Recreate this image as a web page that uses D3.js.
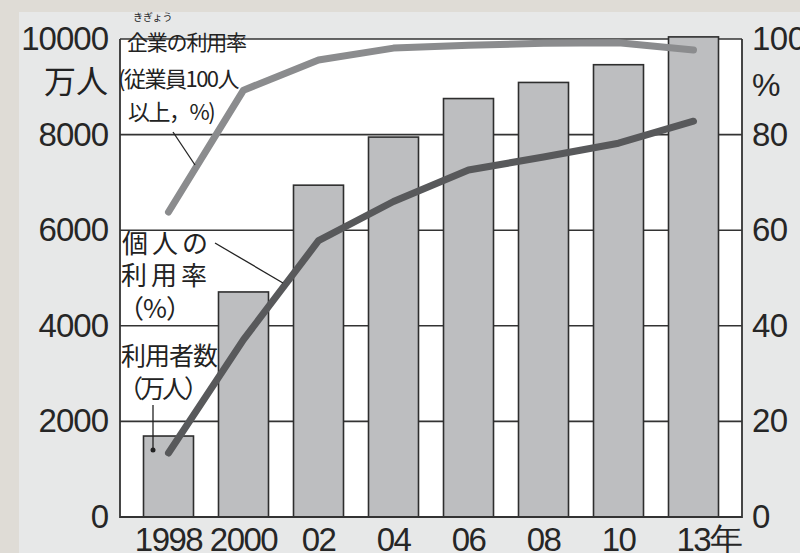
<!DOCTYPE html>
<html>
<head>
<meta charset="utf-8">
<script src="https://cdn.jsdelivr.net/npm/d3@7"></script>
<style>
  html, body { margin: 0; padding: 0; background: #dfdcd6; }
  svg { display: block; }
  .num { font-family: "Liberation Sans", Arial, sans-serif; fill: #262626; }
  .jp { font-family: "Noto Sans CJK JP", sans-serif; fill: #222; }
</style>
</head>
<body>
<svg id="chart"></svg>
<script>
// data
const years = ["1998", "2000", "02", "04", "06", "08", "10", "13"];
const users = [1694, 4708, 6942, 7948, 8754, 9091, 9462, 10044];      // 万人
const personalRate = [13.4, 37.1, 57.8, 66.0, 72.6, 75.3, 78.2, 82.8]; // %
const companyRate = [63.8, 89.3, 95.6, 98.1, 98.7, 99.1, 99.2, 97.7];  // %
const leftTicks = [0, 2000, 4000, 6000, 8000, 10000];
const rightTicks = [0, 20, 40, 60, 80, 100];

const width = 800, height = 553;
const plot = {left: 120, right: 742, top: 39, bottom: 517};

const svg = d3.select('#chart')
    .attr('width', width)
    .attr('height', height);

// backdrop
svg.append('rect').attr('width', width).attr('height', height).attr('fill', '#dfdcd6');
svg.append('rect').attr('x', 19).attr('y', 12).attr('width', width - 19).attr('height', height - 12).attr('fill', '#e7e8e8');
svg.append('rect')
    .attr('x', plot.left).attr('y', plot.top)
    .attr('width', plot.right - plot.left).attr('height', plot.bottom - plot.top)
    .attr('fill', '#fff');

const x = d3.scaleBand()
    .domain(years)
    .range([131, 731])
    .paddingInner(1 / 3)
    .paddingOuter(1 / 6);

const yL = d3.scaleLinear().domain([0, 10000]).range([plot.bottom, plot.top]);
const yR = d3.scaleLinear().domain([0, 100]).range([plot.bottom, plot.top]);

// grid lines (behind bars)
svg.append('g')
    .selectAll('line')
    .data(leftTicks)
    .join('line')
        .attr('x1', plot.left).attr('x2', plot.right)
        .attr('y1', d => yL(d)).attr('y2', d => yL(d))
        .attr('stroke', '#333').attr('stroke-width', 1.6);

// bars
svg.append('g')
    .selectAll('rect')
    .data(users)
    .join('rect')
        .attr('x', (d, i) => x(years[i]))
        .attr('y', d => yL(d))
        .attr('width', x.bandwidth())
        .attr('height', d => yL(0) - yL(d))
        .attr('fill', '#bdbec0')
        .attr('stroke', '#2e2e2e')
        .attr('stroke-width', 1.6);

// frame
svg.append('path')
    .attr('d', `M${plot.left},${plot.top}V${plot.bottom}H${plot.right}V${plot.top}`)
    .attr('fill', 'none').attr('stroke', '#333').attr('stroke-width', 1.8);

// lines
const cx = i => x(years[i]) + x.bandwidth() / 2;
const line = d3.line()
    .x((d, i) => cx(i))
    .y(d => yR(d));

svg.append('path')
    .datum(companyRate)
    .attr('d', line)
    .attr('fill', 'none')
    .attr('stroke', '#8b8c8e')
    .attr('stroke-width', 7)
    .attr('stroke-linejoin', 'round')
    .attr('stroke-linecap', 'round');

svg.append('path')
    .datum(personalRate)
    .attr('d', line)
    .attr('fill', 'none')
    .attr('stroke', '#58595b')
    .attr('stroke-width', 7)
    .attr('stroke-linejoin', 'round')
    .attr('stroke-linecap', 'round');

// left axis
const gl = svg.append('g')
    .attr('transform', `translate(${plot.left},0)`)
    .call(d3.axisLeft(yL).tickValues(leftTicks).tickSize(0).tickPadding(12).tickFormat(d3.format('d')));
gl.select('.domain').remove();
gl.selectAll('text').attr('class', 'num').style('font-size', '33px').attr('letter-spacing', '-1');

svg.append('text')
    .attr('class', 'jp')
    .attr('x', 108).attr('y', 93)
    .attr('text-anchor', 'end')
    .style('font-size', '32px')
    .text('万人');

// right axis
const gr = svg.append('g')
    .attr('transform', `translate(${plot.right},0)`)
    .call(d3.axisRight(yR).tickValues(rightTicks).tickSize(0).tickPadding(10));
gr.select('.domain').remove();
gr.selectAll('text').attr('class', 'num').style('font-size', '33px').attr('letter-spacing', '-0.5');

svg.append('text')
    .attr('class', 'num')
    .attr('x', 752).attr('y', 96)
    .style('font-size', '32px')
    .text('%');

// x axis
const gx = svg.append('g')
    .attr('transform', `translate(0,${plot.bottom})`)
    .call(d3.axisBottom(x).tickSize(0).tickPadding(11).tickFormat(d => d === '13' ? '13年' : d));
gx.select('.domain').remove();
gx.selectAll('text')
    .attr('class', 'num')
    .style('font-size', '33px')
    .attr('letter-spacing', '-1.5');
gx.selectAll('text').filter(d => d === '13')
    .attr('text-anchor', 'start')
    .attr('x', -17);

// annotations
const note = (tx, ty, size, str, spacing) => svg.append('text')
    .attr('class', 'jp')
    .attr('x', tx).attr('y', ty)
    .style('font-size', size + 'px')
    .attr('letter-spacing', spacing || 0)
    .text(str);

note(133, 21, 10, 'きぎょう');
note(127, 50, 21, '企業の利用率', -1.2);
note(118, 87, 22, '(従業員100人', -1.5);
note(128, 120, 22, '以上，%)', -1.5);

note(122, 253, 26, '個人の', 4);
note(121, 285, 26, '利用率', 4);
note(118, 318, 26, '（%）', -1);

note(121, 365, 25, '利用者数', -1);
note(118, 398, 25, '（万人）', -3);

const leader = (x1, y1, x2, y2) => svg.append('line')
    .attr('x1', x1).attr('y1', y1).attr('x2', x2).attr('y2', y2)
    .attr('stroke', '#222').attr('stroke-width', 1.3);

leader(173, 132, 195, 165);
leader(215, 243, 283, 283);
leader(153, 405, 153, 450);
svg.append('circle').attr('cx', 153).attr('cy', 450).attr('r', 2.5).attr('fill', '#222');
</script>
</body>
</html>
